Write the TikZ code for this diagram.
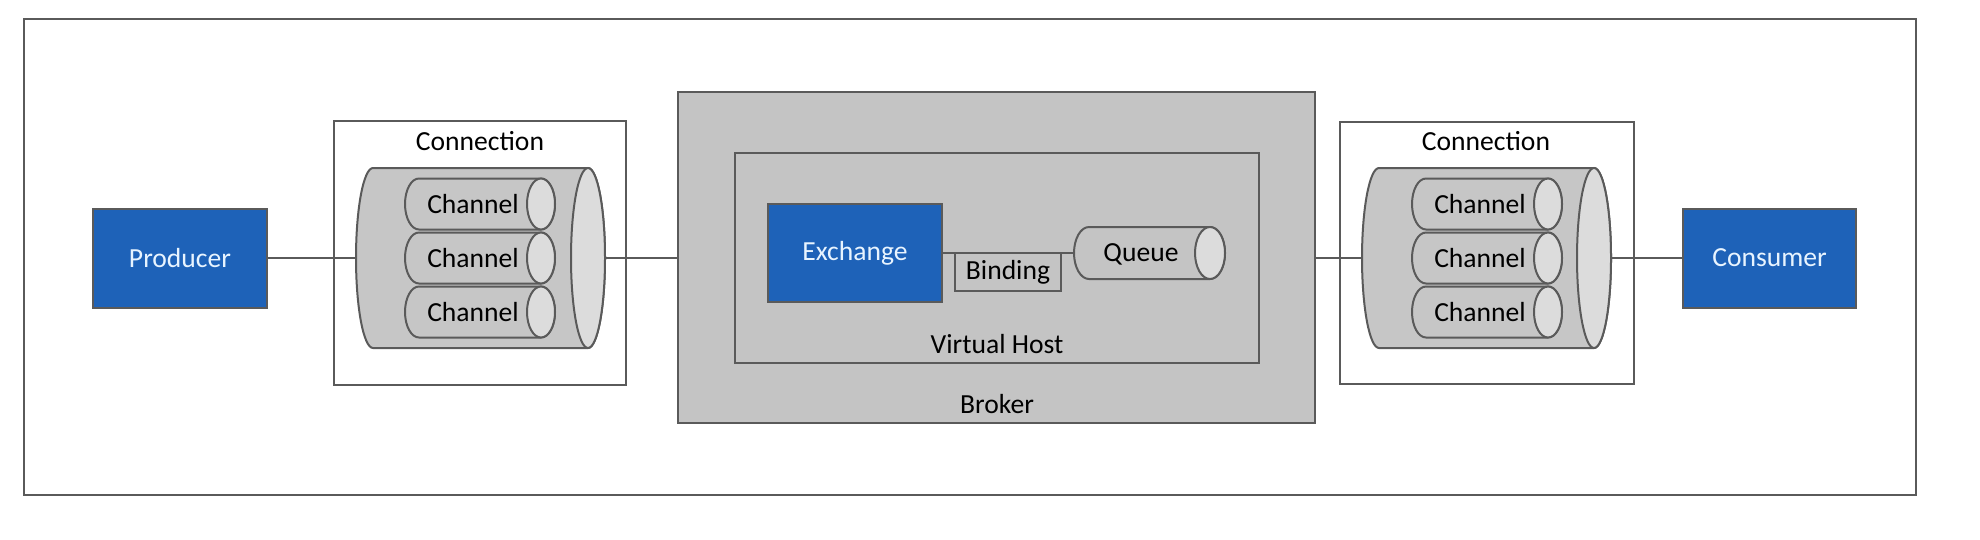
\documentclass[tikz,border=0pt]{standalone}
\usepackage{fontspec}
\setmainfont{Carlito}
\definecolor{lc}{HTML}{5A5A5A}
\definecolor{grayfill}{HTML}{C4C4C4}
\definecolor{cylbody}{HTML}{C6C6C6}
\definecolor{cylend}{HTML}{DCDCDC}
\definecolor{blu}{HTML}{1E62B8}
\definecolor{blutext}{HTML}{E8F4FF}
\newcommand\hcyl[7]{% x1 x2 cy rx ry bodyfill endfill
  \draw[ln, fill=#6] (#1,{-(#3-#5)}) -- (#2,{-(#3-#5)}) arc[start angle=90,end angle=-90,x radius=#4,y radius=#5] -- (#1,{-(#3+#5)}) arc[start angle=270,end angle=90,x radius=#4,y radius=#5] -- cycle;
  \draw[ln, fill=#7] (#2,-#3) ellipse[x radius=#4,y radius=#5];
}
\begin{document}
\begin{tikzpicture}[x=0.5pt,y=0.5pt,
  ln/.style={draw=lc, line width=1pt},
  bluebox/.style={ln, fill=blu, text=blutext, inner sep=0pt, font=\fontsize{13.8}{16}\selectfont},
  grbox/.style={ln, fill=grayfill, inner sep=0pt},
  whbox/.style={ln, fill=white, inner sep=0pt},
  lbl/.style={inner sep=0pt, font=\fontsize{13.8}{16}\selectfont, text=black},
  conn/.style={ln}
]
\useasboundingbox (0,0) rectangle (1980,-540);
% outer frame
\node[ln, minimum width=946pt, minimum height=238pt, inner sep=0pt] (frame) at (970,-257) {};

% Producer / Consumer
\node[bluebox, minimum width=87pt, minimum height=49.5pt] (producer) at (180,-258) {Producer};
\node[bluebox, minimum width=86.5pt, minimum height=49.5pt] (consumer) at (1769.5,-258) {Consumer};

% Left connection
\node[whbox, minimum width=146pt, minimum height=132pt] (connL) at (480,-253) {};
\node[lbl] (connLlbl) at (480,-141) {Connection};
\hcyl{373}{588}{258}{17}{90}{cylbody}{cylend}
\coordinate (cylLin) at (356,-258);
\coordinate (cylLout) at (606,-258);
\hcyl{419}{541}{204}{14}{25.5}{cylbody}{cylend}
\hcyl{419}{541}{258}{14}{25.5}{cylbody}{cylend}
\hcyl{419}{541}{312}{14}{25.5}{cylbody}{cylend}
\node[lbl] (chL1) at (473,-204) {Channel};
\node[lbl] (chL2) at (473,-258) {Channel};
\node[lbl] (chL3) at (473,-312) {Channel};

% Right connection
\node[whbox, minimum width=147pt, minimum height=131pt] (connR) at (1487,-253) {};
\node[lbl] (connRlbl) at (1486,-141) {Connection};
\hcyl{1379}{1594}{258}{17}{90}{cylbody}{cylend}
\coordinate (cylRin) at (1362,-258);
\coordinate (cylRout) at (1611,-258);
\hcyl{1426}{1548}{204}{14}{25.5}{cylbody}{cylend}
\hcyl{1426}{1548}{258}{14}{25.5}{cylbody}{cylend}
\hcyl{1426}{1548}{312}{14}{25.5}{cylbody}{cylend}
\node[lbl] (chR1) at (1480,-204) {Channel};
\node[lbl] (chR2) at (1480,-258) {Channel};
\node[lbl] (chR3) at (1480,-312) {Channel};

% Broker
\node[grbox, minimum width=318.5pt, minimum height=165.5pt] (broker) at (996.5,-257.5) {};
\node[lbl] (brokerlbl) at (997,-404) {Broker};
\node[grbox, minimum width=262pt, minimum height=105pt] (vhost) at (997,-258) {};
\node[lbl] (vhostlbl) at (997,-344) {Virtual Host};
\node[bluebox, minimum width=87pt, minimum height=49pt] (exchange) at (855,-253) {Exchange};
\hcyl{1089}{1210}{253}{15}{26}{grayfill}{cylend}
\coordinate (queuein) at (1074,-253);
\node[lbl] (queue) at (1141,-254) {Queue};
\draw[conn] (exchange.east) -- (queuein);
\node[whbox, fill=grayfill, minimum width=53pt, minimum height=19pt, font=\fontsize{13.8}{16}\selectfont] (binding) at (1008,-272) {Binding};

% connectors
\draw[conn] (producer.east) -- (cylLin);
\draw[conn] (cylLout) -- (broker.west |- cylLout);
\draw[conn] (broker.east |- cylRin) -- (cylRin);
\draw[conn] (cylRout) -- (consumer.west |- cylRout);
\end{tikzpicture}
\end{document}
